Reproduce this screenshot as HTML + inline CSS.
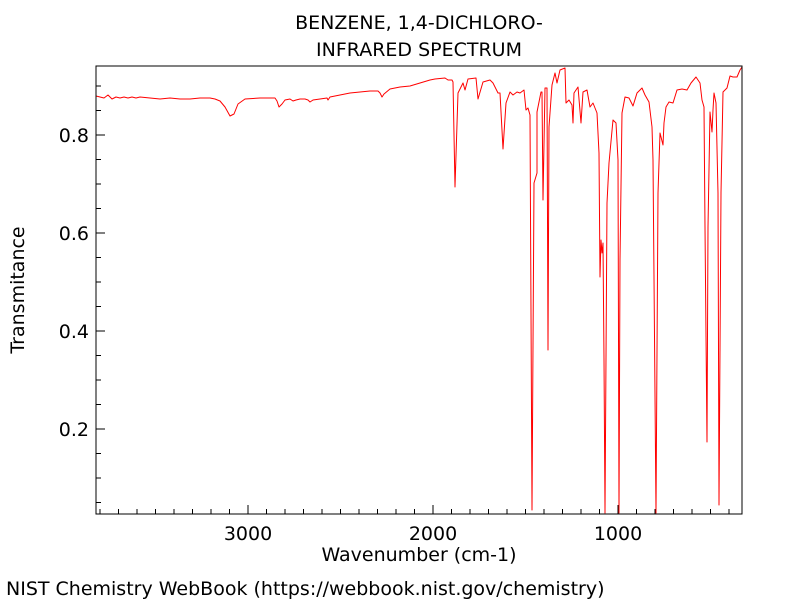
<!DOCTYPE html>
<html><head><meta charset="utf-8"><style>
html,body{margin:0;padding:0;background:#fff;}
svg{display:block;font-family:"DejaVu Sans","Liberation Sans",sans-serif;}
</style></head><body>
<svg width="800" height="600" viewBox="0 0 800 600" xmlns="http://www.w3.org/2000/svg">
<rect width="800" height="600" fill="#fff"/>
<text x="419" y="29" font-size="19" text-anchor="middle">BENZENE, 1,4-DICHLORO-</text>
<text x="419" y="56" font-size="19" text-anchor="middle">INFRARED SPECTRUM</text>
<path fill="none" stroke="#ff0000" stroke-width="1" stroke-linejoin="round" d="
M96,96 L100,97 L104,98 L108,95 L112,99 L116,97 L120,98 L124,97 L128,98 L132,97 L136,98 L140,97 L150,98 L160,99 L170,98 L180,99 L190,99 L200,98 L210,98 L215,99 L220,101 L225,107 L230,116 L234,114 L238,104 L245,99 L260,98 L275,98 L277,101 L279,107 L282,104 L285,100 L290,99 L293,101 L296,100 L300,99 L305,99 L308,100 L310,102 L313,100 L320,99 L327,98 L328,100 L330,97 L340,95 L350,93 L360,92 L370,91 L378,91 L380,93 L382,97 L384,94 L390,89 L400,87 L410,86 L420,83 L430,80 L435,79 L445,78 L448,80 L452,80 L453,82 L455,187 L458,93 L463,83 L465,90 L468,79 L476,78 L478,99 L483,82 L490,80 L493,83 L498,93 L500,93 L503,149 L506,103 L510,92 L513,95 L517,92 L520,93 L524,90 L526,110 L528,108 L530,115 L532,510 L534,183 L537,173 L537,112 L541,92 L542,92 L543,200 L545,88 L547,88 L548,350 L549,127 L552,85 L555,73 L557,83 L560,70 L565,68 L566,103 L569,100 L572,105 L573,123 L574,93 L578,87 L581,123 L583,92 L587,90 L590,107 L593,103 L597,113 L599,153 L600,277 L601,240 L602,253 L603,243 L604,360 L605,513 L607,203 L609,163 L613,120 L616,123 L618,160 L619,513 L620,260 L622,113 L625,97 L629,98 L633,106 L637,93 L642,88 L645,95 L649,102 L652,127 L653,160 L656,513 L658,193 L660,133 L663,145 L664,123 L666,107 L669,102 L673,103 L677,90 L682,89 L687,90 L691,83 L696,77 L700,83 L702,100 L704,107 L705,227 L707,442 L708,227 L710,112 L712,132 L713,110 L714,93 L716,103 L718,193 L719,505 L721,193 L723,92 L727,88 L730,76 L733,77 L737,77 L740,70 L742,67"/>
<rect x="96" y="66" width="646" height="448" fill="none" stroke="#000" stroke-width="1"/>
<path stroke="#000" stroke-width="1" fill="none" d="
M248,514 v-9 M433,514 v-9 M618,514 v-9
M100,514 v-5 M118.5,514 v-5 M137,514 v-5 M155.5,514 v-5 M174,514 v-5 M192.5,514 v-5 M211,514 v-5 M229.5,514 v-5
M266.5,514 v-5 M285,514 v-5 M303.5,514 v-5 M322,514 v-5 M340.5,514 v-5 M359,514 v-5 M377.5,514 v-5 M396,514 v-5 M414.5,514 v-5
M451.5,514 v-5 M470,514 v-5 M488.5,514 v-5 M507,514 v-5 M525.5,514 v-5 M544,514 v-5 M562.5,514 v-5 M581,514 v-5 M599.5,514 v-5
M636.5,514 v-5 M655,514 v-5 M673.5,514 v-5 M692,514 v-5 M710.5,514 v-5 M729,514 v-5
M96,429 h9 M96,331 h9 M96,233 h9 M96,135 h9
M96,502.5 h5 M96,478 h5 M96,453.5 h5 M96,404.5 h5 M96,380 h5 M96,355.5 h5 M96,306.5 h5 M96,282 h5 M96,257.5 h5 M96,208.5 h5 M96,184 h5 M96,159.5 h5 M96,110.5 h5 M96,86 h5"/>
<g font-size="19" text-anchor="middle">
<text x="248" y="540">3000</text>
<text x="433" y="540">2000</text>
<text x="618" y="540">1000</text>
</g>
<g font-size="19" text-anchor="end">
<text x="89" y="436">0.2</text>
<text x="89" y="338">0.4</text>
<text x="89" y="240">0.6</text>
<text x="89" y="142">0.8</text>
</g>
<text x="419" y="561" font-size="19" text-anchor="middle">Wavenumber (cm-1)</text>
<text transform="translate(24,290) rotate(-90)" font-size="19" text-anchor="middle">Transmitance</text>
<text x="6" y="595" font-size="19">NIST Chemistry WebBook (https://webbook.nist.gov/chemistry)</text>
</svg>
</body></html>
